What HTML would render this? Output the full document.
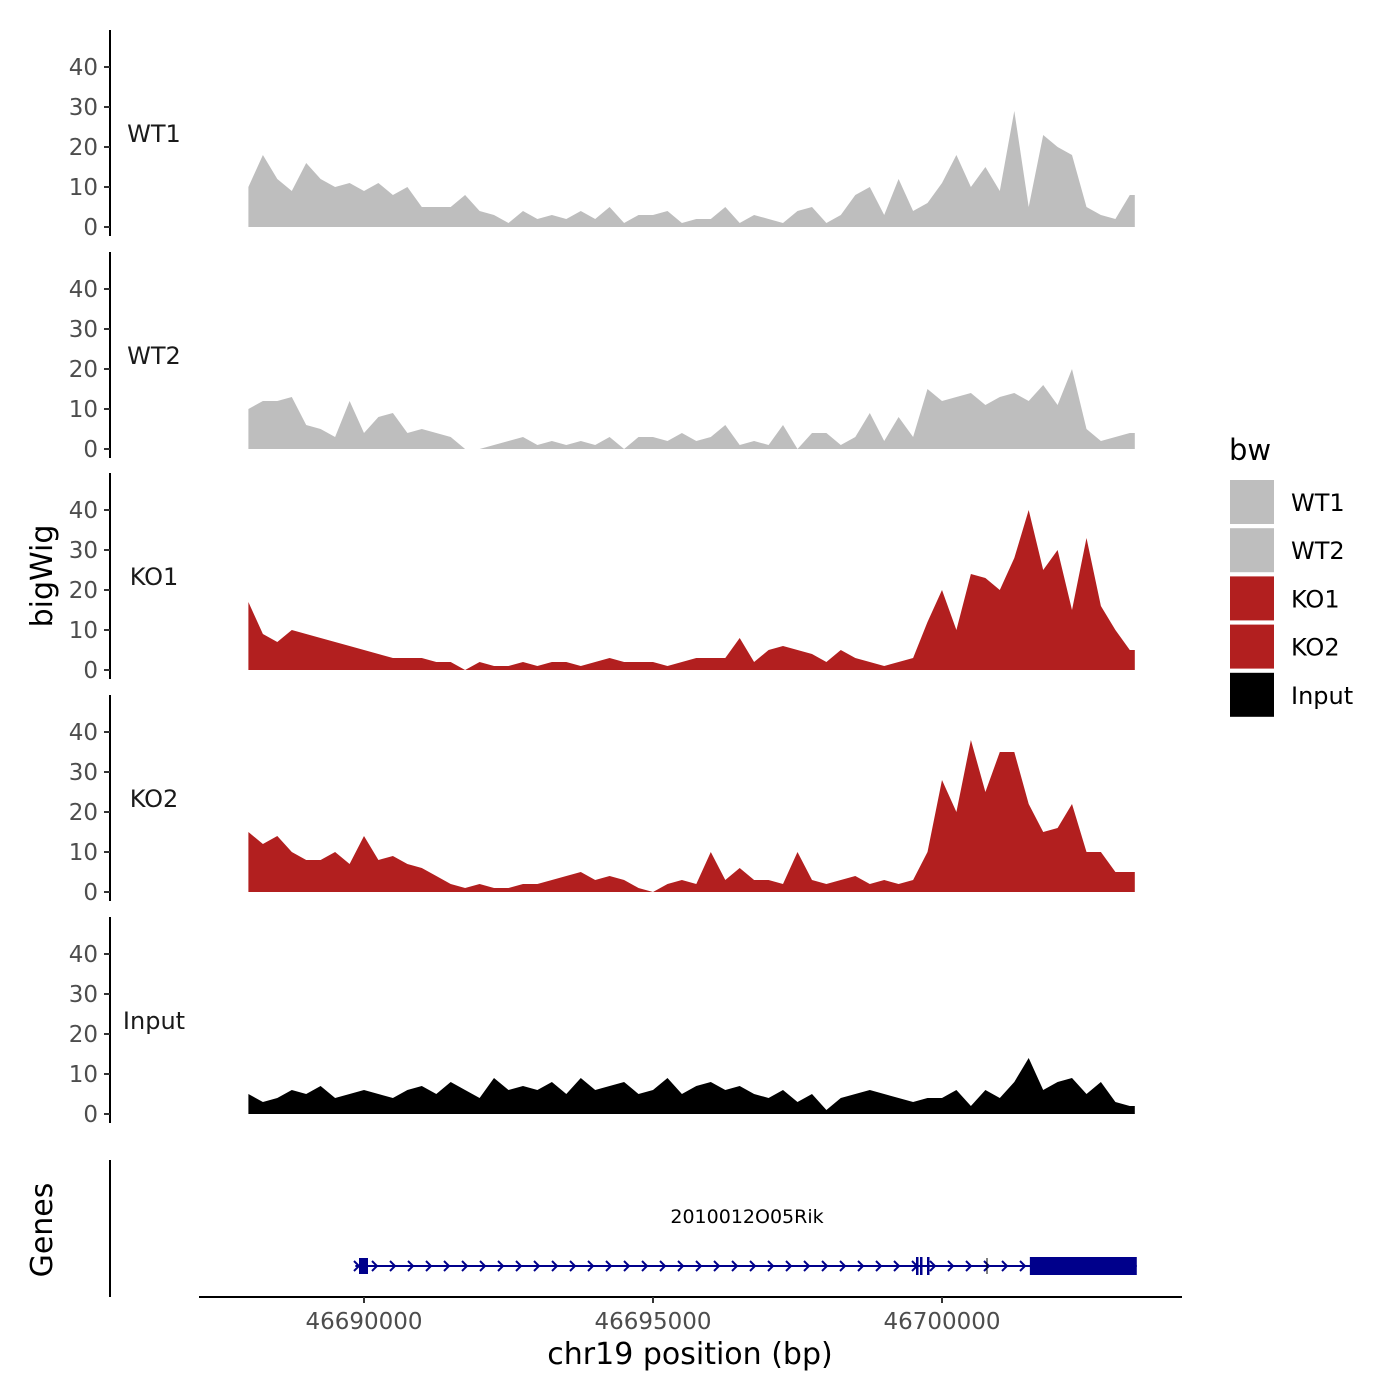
<!DOCTYPE html>
<html><head><meta charset="utf-8"><style>
body{margin:0;background:#fff;}
svg{display:block;font-family:"DejaVu Sans","Liberation Sans",sans-serif;}
</style></head><body>
<svg id="chart" width="1400" height="1400" viewBox="0 0 1400 1400"></svg>
<script>
const tracks = ["WT1","WT2","KO1","KO2","Input"];
const trackColors = ["#bebebe","#bebebe","#b21f1f","#b21f1f","#000000"];
const yTicks = [0,10,20,30,40];
const xTicks = [46690000,46695000,46700000];
const startBp = 46688000, stepBp = 250;
const wt1 = [10,18,12,9,16,12,10,11,9,11,8,10,5,5,5,8,4,3,1,4,2,3,2,4,2,5,1,3,3,4,1,2,2,5,1,3,2,1,4,5,1,3,8,10,3,12,4,6,11,18,10,15,9,29,5,23,20,18,5,3,2,8];
const wt2 = [10,12,12,13,6,5,3,12,4,8,9,4,5,4,3,0,0,1,2,3,1,2,1,2,1,3,0,3,3,2,4,2,3,6,1,2,1,6,0,4,4,1,3,9,2,8,3,15,12,13,14,11,13,14,12,16,11,20,5,2,3,4];
const ko1 = [17,9,7,10,9,8,7,6,5,4,3,3,3,2,2,0,2,1,1,2,1,2,2,1,2,3,2,2,2,1,2,3,3,3,8,2,5,6,5,4,2,5,3,2,1,2,3,12,20,10,24,23,20,28,40,25,30,15,33,16,10,5];
const ko2 = [15,12,14,10,8,8,10,7,14,8,9,7,6,4,2,1,2,1,1,2,2,3,4,5,3,4,3,1,0,2,3,2,10,3,6,3,3,2,10,3,2,3,4,2,3,2,3,10,28,20,38,25,35,35,22,15,16,22,10,10,5,5];
const input = [5,3,4,6,5,7,4,5,6,5,4,6,7,5,8,6,4,9,6,7,6,8,5,9,6,7,8,5,6,9,5,7,8,6,7,5,4,6,3,5,1,4,5,6,5,4,3,4,4,6,2,6,4,8,14,6,8,9,5,8,3,2];
const series = [wt1,wt2,ko1,ko2,input];
const geneStart = 46689850, geneEnd = 46703370, utrStart = 46701520;

const NS="http://www.w3.org/2000/svg";
const svg=document.getElementById('chart');
function el(t,a,p){const e=document.createElementNS(NS,t);for(const k in a)e.setAttribute(k,a[k]);(p||svg).appendChild(e);return e;}
const xScale=bp=>364+(bp-46690000)*0.0578;
const base=[227,449,670,892,1114];
const yScale=(i,v)=>base[i]-v*4;

tracks.forEach((name,i)=>{
  const g=el('g',{});
  
  
  const ax=el('line',{x1:110,x2:110,y1:base[i]-197,y2:base[i]+9,stroke:'#000','stroke-width':2},g);
  
  
  yTicks.forEach(t=>{
    const y=yScale(i,t);
    el('line',{x1:104,x2:110,y1:y,y2:y,stroke:'#333','stroke-width':2},g);
    const tx=el('text',{x:98,y:y+8,'text-anchor':'end','font-size':23,fill:'#4d4d4d'},g);
    tx.textContent=t;
    
    
  });
  const lab=el('text',{x:154,y:base[i]-85,'text-anchor':'middle','font-size':24,fill:'#1a1a1a'},g);
  lab.textContent=name;
  
  
  const d=series[i];
  let p='M'+xScale(startBp)+','+base[i];
  d.forEach((v,j)=>{p+=' L'+xScale(startBp+j*stepBp).toFixed(1)+','+yScale(i,v).toFixed(1);});
  const lastX=xScale(startBp+(d.length-1)*stepBp)+5;
  p+=' L'+lastX.toFixed(1)+','+yScale(i,d[d.length-1])+' L'+lastX.toFixed(1)+','+base[i]+' Z';
  const a=el('path',{d:p,fill:trackColors[i]},g);
  
  
});

const yt=el('text',{x:0,y:0,transform:'translate(52,576) rotate(-90)','text-anchor':'middle','font-size':30,fill:'#000'});
yt.textContent='bigWig';



const gt=el('text',{x:0,y:0,transform:'translate(52,1230) rotate(-90)','text-anchor':'middle','font-size':30,fill:'#000'});
gt.textContent='Genes';


const gy=el('line',{x1:110,x2:110,y1:1160,y2:1297,stroke:'#000','stroke-width':2});


const gx=el('line',{x1:199,x2:1182,y1:1297,y2:1297,stroke:'#000','stroke-width':2});


xTicks.forEach(t=>{
  const x=xScale(t);
  el('line',{x1:x,x2:x,y1:1297,y2:1303,stroke:'#333','stroke-width':2});
  const tx=el('text',{x:x,y:1329,'text-anchor':'middle','font-size':23,fill:'#4d4d4d'});
  tx.textContent=t;
  
  
});
const xt=el('text',{x:690,y:1364,'text-anchor':'middle','font-size':30,fill:'#000'});
xt.textContent='chr19 position (bp)';



const gene=el('g',{});


const gs=xScale(geneStart), ge=xScale(geneEnd);
el('line',{x1:gs,x2:ge,y1:1266,y2:1266,stroke:'#00008b','stroke-width':2},gene);
for(let x=372;x<1025;x+=18){el('path',{d:`M${x},1261 L${x+5},1266 L${x},1271`,stroke:'#00008b','stroke-width':2,fill:'none'},gene);}
el('path',{d:'M354,1261 L359,1266 L354,1271',stroke:'#00008b','stroke-width':2,fill:'none'},gene);
el('rect',{x:359,y:1258,width:9,height:16,fill:'#00008b'},gene);
[917,921,928].forEach(x=>el('rect',{x:x-1,y:1257,width:2.5,height:18,fill:'#00008b'},gene));
el('line',{x1:987,x2:987,y1:1258,y2:1274,stroke:'#000','stroke-width':1},gene);
el('rect',{x:xScale(utrStart),y:1257,width:ge-xScale(utrStart),height:18,fill:'#00008b'},gene);
const gl=el('text',{x:747,y:1223,'text-anchor':'middle','font-size':19,fill:'#000'},gene);
gl.textContent='2010012O05Rik';



const lg=el('g',{});


const lt=el('text',{x:1229,y:460,'font-size':29,fill:'#000'},lg);
lt.textContent='bw';


tracks.forEach((name,i)=>{
  const y=480+i*48.2;
  const r=el('rect',{x:1230,y:y,width:44,height:44,fill:trackColors[i]},lg);
  
  
  const t=el('text',{x:1291,y:y+31,'font-size':24,fill:'#000'},lg);
  t.textContent=name;
  
  
});
</script>
</body></html>
